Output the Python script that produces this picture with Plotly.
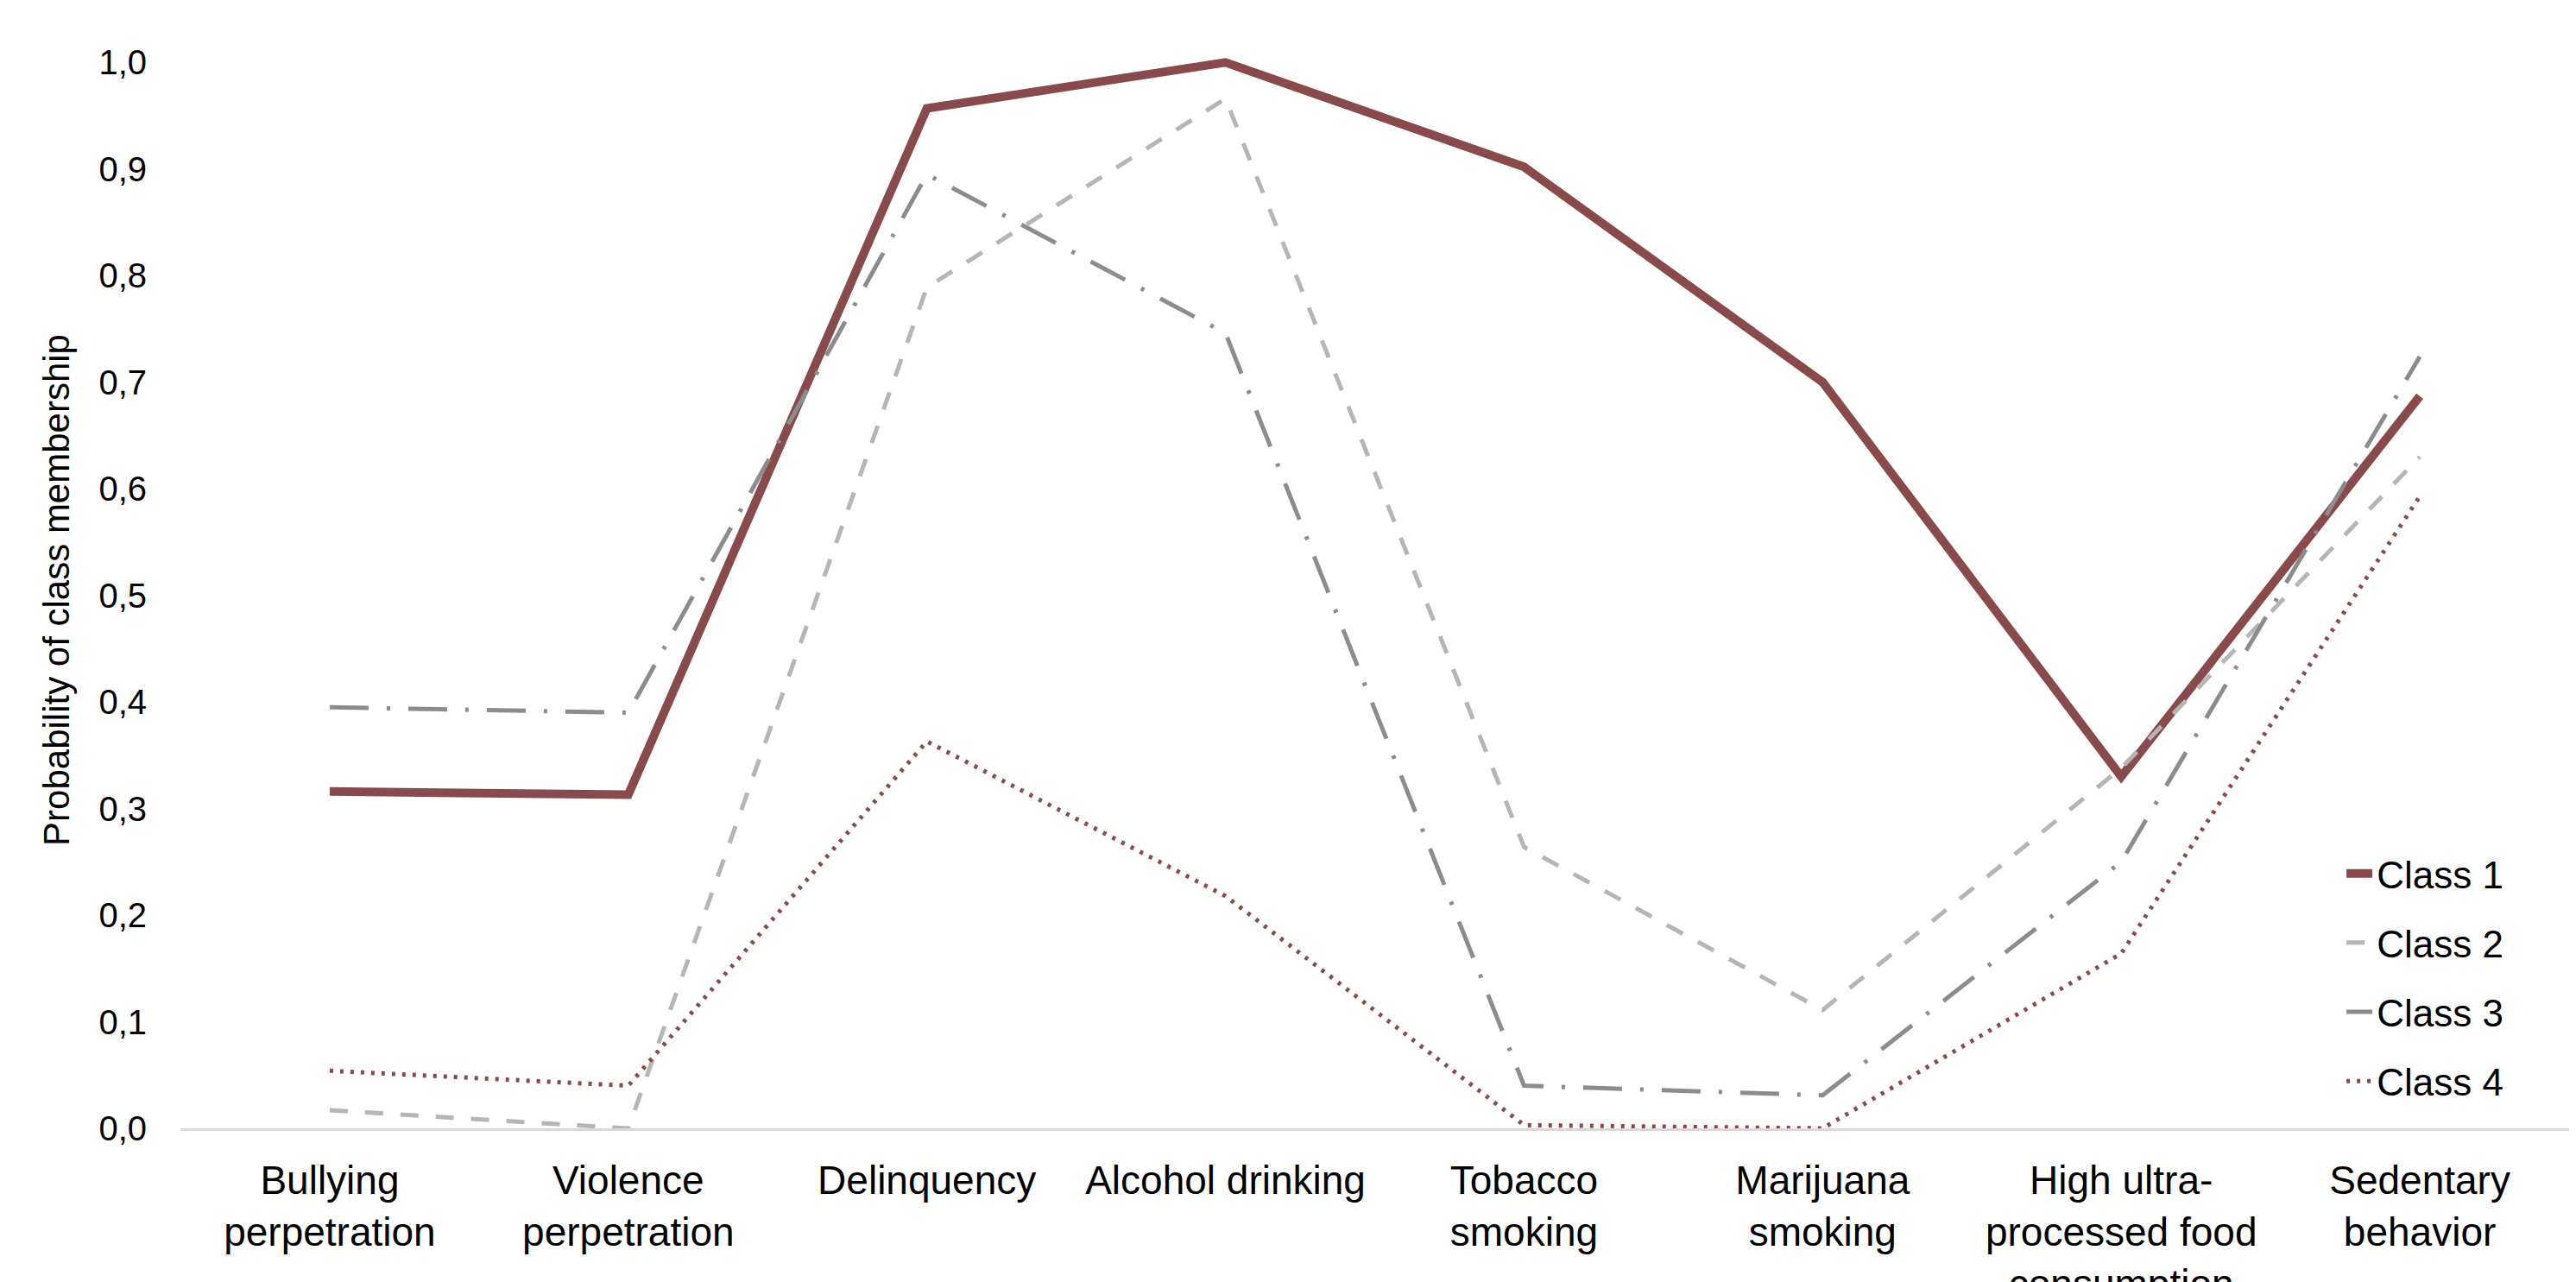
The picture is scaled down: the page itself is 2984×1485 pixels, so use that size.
import plotly.graph_objects as go

categories = [
    "Bullying<br>perpetration",
    "Violence<br>perpetration",
    "Delinquency",
    "Alcohol drinking",
    "Tobacco<br>smoking",
    "Marijuana<br>smoking",
    "High ultra-<br>processed food<br>consumption",
    "Sedentary<br>behavior",
]

class1 = [0.316, 0.313, 0.957, 1.000, 0.902, 0.700, 0.330, 0.687]
class2 = [0.017, 0.000, 0.789, 0.966, 0.264, 0.111, 0.338, 0.630]
class3 = [0.395, 0.390, 0.895, 0.746, 0.040, 0.031, 0.250, 0.724]
class4 = [0.054, 0.040, 0.363, 0.218, 0.003, 0.000, 0.164, 0.593]

series_names = ["Class 1", "Class 2", "Class 3", "Class 4"]

FONT = "Liberation Sans, Arial, Helvetica, sans-serif"

styles = [
    dict(color="#894A4C", width=10, dash="solid"),
    dict(color="#B5B5B5", width=5, dash="21px,20px"),
    dict(color="#8C8C8C", width=5, dash="45px,21px,4px,21px"),
    dict(color="#894A4C", width=5, dash="4px,8px"),
]

fig = go.Figure()
for i, (name, vals) in enumerate(zip(series_names, [class1, class2, class3, class4])):
    fig.add_trace(go.Scatter(
        x=categories, y=vals, mode="lines", name=name,
        line=styles[i], legendgroup=name,
    ))

W, H = 2984, 1485
fig.update_layout(
    width=W, height=H,
    margin=dict(l=209, r=8, t=60, b=178, autoexpand=False),
    paper_bgcolor="white", plot_bgcolor="white",
    separators=",.",
    font=dict(family=FONT, size=44, color="#000000"),
    showlegend=True,
    legend=dict(
        x=0.905, y=0.265, xanchor="left", yanchor="top",
        font=dict(family=FONT, size=44, color="#000000"),
        bgcolor="rgba(0,0,0,0)",
        traceorder="grouped", tracegroupgap=20,
    ),
)
fig.update_xaxes(
    type="category", range=[-0.5, 7.5],
    showgrid=False, showline=True, linecolor="#D9D9D9", linewidth=3,
    ticks="", tickfont=dict(family=FONT, size=46, color="#000000"),
    ticklabelstandoff=18, zeroline=False,
)
fig.update_yaxes(
    range=[0, 1.01], tickvals=[0, 0.1, 0.2, 0.3, 0.4, 0.5, 0.6, 0.7, 0.8, 0.9, 1.0],
    tickformat=".1f", showgrid=False, zeroline=False, showline=False,
    ticks="", tickfont=dict(family=FONT, size=40, color="#000000"),
    ticklabelstandoff=38,
    title=dict(text="Probability of class membership",
               font=dict(family=FONT, size=42, color="#000000"), standoff=20),
)

fig.write_html("out.html")
